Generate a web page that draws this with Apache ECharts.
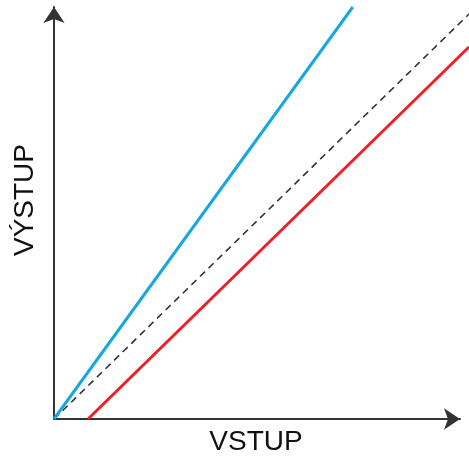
<!DOCTYPE html>
<html>
<head>
<meta charset="utf-8">
<script src="https://cdn.jsdelivr.net/npm/echarts@6/dist/echarts.min.js"></script>
<style>html,body{margin:0;padding:0;background:#fff}#c{width:469px;height:459px}</style>
</head>
<body>
<div id="c"></div>
<script>
const xName = 'VSTUP';
const yName = 'VÝSTUP';
const blueLine = [[0, 0], [7.2, 10]];
const dashedLine = [[0, 0], [10, 9.83]];
const redLine = [[0.82, 0], [10, 9.03]];

const chart = echarts.init(document.getElementById('c'));
const hidden = {
  type: 'value', min: 0, max: 10, show: false
};
const arrowAxis = {
  type: 'value', min: 0, max: 10,
  splitLine: {show: false}, axisTick: {show: false}, axisLabel: {show: false},
  axisLine: {show: true, onZero: false, symbol: ['none', 'arrow'], symbolSize: [16, 16],
    lineStyle: {color: '#333', width: 2}}
};
const font = 'Liberation Sans, Arial, sans-serif';
chart.setOption({
  animation: false,
  grid: [
    {left: 54, top: 7, width: 415, height: 412},
    {left: 54, top: 7, width: 406, height: 412}
  ],
  xAxis: [Object.assign({gridIndex: 0}, hidden), Object.assign({gridIndex: 1}, arrowAxis)],
  yAxis: [Object.assign({gridIndex: 0}, hidden), Object.assign({gridIndex: 1}, arrowAxis)],
  graphic: [
    {type: 'text', x: 256, y: 442, style: {text: xName, font: '28px ' + font, fill: '#111',
      textAlign: 'center', textVerticalAlign: 'middle'}},
    {type: 'text', x: 25, y: 200, rotation: Math.PI / 2, style: {text: yName, font: '28px ' + font, fill: '#111',
      textAlign: 'center', textVerticalAlign: 'middle'}}
  ],
  series: [
    {type: 'line', xAxisIndex: 0, yAxisIndex: 0, data: dashedLine, showSymbol: false, clip: false, z: 3,
     lineStyle: {color: '#333', width: 1.6, type: [7, 5]}},
    {type: 'line', xAxisIndex: 0, yAxisIndex: 0, data: blueLine, showSymbol: false, clip: false, z: 4,
     lineStyle: {color: '#19a7e0', width: 3}},
    {type: 'line', xAxisIndex: 0, yAxisIndex: 0, data: redLine, showSymbol: false, clip: false, z: 4,
     lineStyle: {color: '#ee2026', width: 3}}
  ]
});
</script>
</body>
</html>
